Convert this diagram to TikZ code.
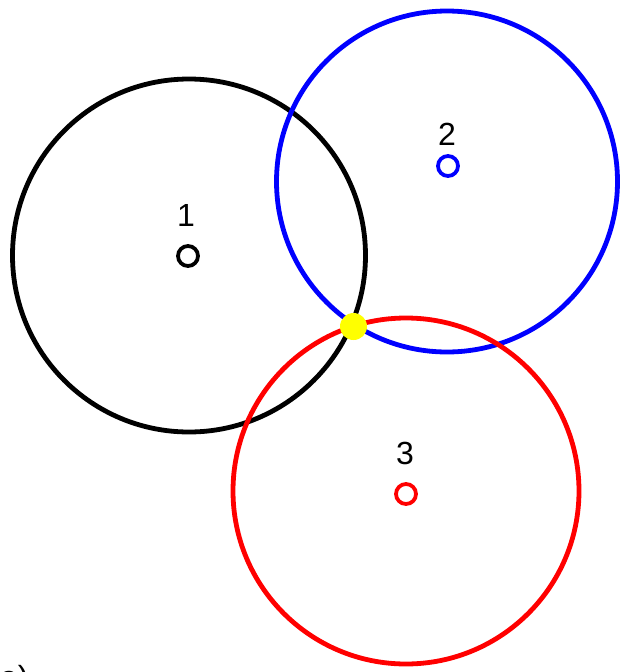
\documentclass[tikz,border=0pt]{standalone}
\usepackage{fontspec}
\setmainfont{Liberation Sans}
\usepackage{tikz}
\usetikzlibrary{positioning}
\definecolor{ringBlack}{HTML}{000000}
\definecolor{ringBlue}{HTML}{0000FF}
\definecolor{ringRed}{HTML}{FF0000}
\definecolor{hitYellow}{HTML}{FFFF00}

\begin{document}
\begin{tikzpicture}[
  x=1pt, y=-1pt,
  ring/.style={line width=4.8pt},
  centre/.style={circle, draw, line width=3.8pt, minimum size=20pt, inner sep=0pt},
  num/.style={font=\fontsize{32}{32}\selectfont, text=black, inner sep=0pt},
  hit/.style={circle, fill=hitYellow, minimum size=27pt, inner sep=0pt}
]
\useasboundingbox (0,0) rectangle (623,672);

% Centres
\node[centre, draw=ringBlack] (c1) at (188,256) {};
\node[centre, draw=ringBlue] (c2) at (448,166) {};
\node[centre, draw=ringRed] (c3) at (406,494) {};

% Labels above centres
\node[num] (l1) at (186,215) {1};
\node[num] (l2) at (447,134) {2};
\node[num] (l3) at (405,453) {3};

% Range circles
\draw[ring, ringBlack] (189,255.5) circle[radius=176.5];
\draw[ring, ringBlue] (447,181.5) circle[radius=170.5];
\draw[ring, ringRed] (406,491) circle[radius=173];

% Common point
\node[hit] (p) at (353.5,326.5) {};

% Panel tag
\node[num, anchor=base west] (tag) at (0,688) {a)};
\end{tikzpicture}
\end{document}
